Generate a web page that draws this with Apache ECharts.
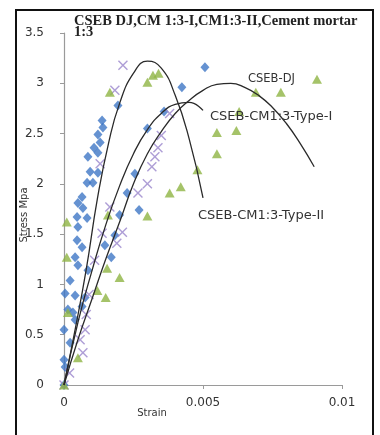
<!DOCTYPE html>
<html>
<head>
<meta charset="utf-8">
<script src="https://cdn.jsdelivr.net/npm/echarts@6.0.0/dist/echarts.min.js"></script>
<style>
  html, body { margin: 0; padding: 0; background: #fff; }
  #chart { width: 380px; height: 435px; }
</style>
</head>
<body>
<div id="chart"></div>
<script>
// [strain, stress]
var mortarPoints = [
  [0, 0], [0.00004, 0.18], [0, 0.25], [0.00022, 0.42], [0, 0.55], [0.0004, 0.65],
  [0.00032, 0.72], [0.00014, 0.75], [0.00065, 0.78], [0.00076, 0.87], [0.0004, 0.89],
  [0.00004, 0.91], [0.00022, 1.04], [0.00086, 1.14], [0.0005, 1.19], [0.0004, 1.27],
  [0.00065, 1.37], [0.00047, 1.44], [0.0005, 1.57], [0.00047, 1.67], [0.00083, 1.66],
  [0.00068, 1.76], [0.0005, 1.81], [0.00065, 1.87], [0.00083, 2.01], [0.00104, 2.01],
  [0.00094, 2.12], [0.00122, 2.11], [0.00086, 2.27], [0.00122, 2.31], [0.00108, 2.36],
  [0.0013, 2.41], [0.00122, 2.49], [0.0014, 2.56], [0.00137, 2.63], [0.00194, 2.78],
  [0.00147, 1.39], [0.0017, 1.27], [0.00183, 1.49], [0.002, 1.69], [0.0027, 1.74],
  [0.00227, 1.91], [0.00255, 2.1], [0.003, 2.55], [0.0036, 2.72], [0.00424, 2.96],
  [0.00507, 3.16]
];
var typeTwoPoints = [
  [0, 0], [0.0002, 0.12], [0.00068, 0.32], [0.00058, 0.45], [0.00076, 0.55],
  [0.0008, 0.7], [0.0009, 0.9], [0.0011, 1.24], [0.00137, 1.51], [0.0019, 1.41],
  [0.0021, 1.52], [0.00165, 1.77], [0.0013, 2.2], [0.00266, 1.91], [0.003, 2.0],
  [0.00316, 2.17], [0.00327, 2.27], [0.00338, 2.36], [0.0035, 2.48], [0.0038, 2.7],
  [0.00183, 2.93], [0.00212, 3.18]
];
var djPoints = [
  [0, 0], [0.0005, 0.27], [0.00014, 0.72], [0.0012, 0.94], [0.0015, 0.87],
  [0.00155, 1.16], [0.002, 1.07], [0.0001, 1.27], [0.0001, 1.62], [0.00158, 1.69],
  [0.003, 1.68], [0.0038, 1.91], [0.0042, 1.97], [0.0048, 2.14], [0.0055, 2.3],
  [0.0055, 2.51], [0.0062, 2.53], [0.0063, 2.72], [0.00165, 2.91], [0.003, 3.01],
  [0.0032, 3.08], [0.0034, 3.1], [0.0069, 2.91], [0.0078, 2.91], [0.0091, 3.04]
];
// trendlines
var typeTwoCurve = [
  [0, 0], [0.0004, 0.55], [0.0008, 1.15], [0.0012, 1.85], [0.0016, 2.4], [0.002, 2.8],
  [0.0025, 3.1], [0.003, 3.22], [0.0035, 3.15], [0.004, 2.88], [0.0045, 2.45], [0.005, 1.86]
];
var typeOneCurve = [
  [0, 0], [0.0005, 0.62], [0.001, 1.13], [0.0015, 1.59], [0.002, 1.98], [0.0025, 2.3],
  [0.003, 2.54], [0.0035, 2.7], [0.004, 2.79], [0.0045, 2.81], [0.005, 2.73]
];
var djCurve = [
  [0, 0], [0.0005, 0.45], [0.001, 0.85], [0.0015, 1.25], [0.002, 1.62], [0.0025, 2.0],
  [0.003, 2.3], [0.0035, 2.52], [0.004, 2.7], [0.0045, 2.83], [0.005, 2.93], [0.0055, 2.99],
  [0.006, 3.0], [0.0065, 2.96], [0.007, 2.88], [0.0075, 2.76], [0.008, 2.6], [0.0085, 2.4],
  [0.009, 2.17]
];
var xTicks = [0, 0.005, 0.01];
var yTicks = [0, 0.5, 1, 1.5, 2, 2.5, 3, 3.5];

var crossPath = 'path://M0,1L1,0L5,4L9,0L10,1L6,5L10,9L9,10L5,6L1,10L0,9L4,5Z';
var curveStyle = { color: '#2a2a2a', width: 1.3 };
var sans = 'DejaVu Sans';

var chart = echarts.init(document.getElementById('chart'));
chart.setOption({
  animation: false,
  backgroundColor: '#fff',
  title: {
    text: 'CSEB DJ,CM 1:3-I,CM1:3-II,Cement mortar\n1:3',
    left: 74,
    top: 16,
    padding: 0,
    textStyle: {
      fontFamily: 'Liberation Serif',
      fontSize: 14.5,
      fontWeight: 'bold',
      lineHeight: 11,
      color: '#222'
    }
  },
  grid: {
    left: 64, top: 33, right: 38, bottom: 50,
    containLabel: false,
    outerBoundsMode: 'none'
  },
  xAxis: {
    type: 'value',
    min: xTicks[0],
    max: xTicks[xTicks.length - 1],
    interval: xTicks[1] - xTicks[0],
    splitLine: { show: false },
    axisLine: { show: true, lineStyle: { color: '#9a9a9a', width: 1.2 } },
    axisTick: { show: true, length: 4, lineStyle: { color: '#9a9a9a' } },
    axisLabel: {
      margin: 12,
      fontFamily: sans,
      fontSize: 12,
      color: '#333',
      formatter: function (v) { return String(v); }
    }
  },
  yAxis: {
    type: 'value',
    min: yTicks[0],
    max: yTicks[yTicks.length - 1],
    interval: yTicks[1] - yTicks[0],
    splitLine: { show: false },
    axisLine: { show: true, lineStyle: { color: '#9a9a9a', width: 1.2 } },
    axisTick: { show: true, length: 4, lineStyle: { color: '#9a9a9a' } },
    axisLabel: {
      margin: 20,
      fontFamily: sans,
      fontSize: 12,
      color: '#333'
    }
  },
  series: [
    {
      name: 'Cement mortar 1:3',
      type: 'scatter',
      data: mortarPoints,
      symbol: 'diamond',
      symbolSize: [9, 10],
      itemStyle: { color: '#3f77c5' }
    },
    {
      name: 'CSEB-CM1:3-Type-II',
      type: 'scatter',
      data: typeTwoPoints,
      symbol: crossPath,
      symbolSize: 10,
      itemStyle: { color: '#9a86cc' }
    },
    {
      name: 'CSEB-DJ',
      type: 'scatter',
      data: djPoints,
      symbol: 'triangle',
      symbolSize: [10, 9],
      itemStyle: { color: '#8fb444' }
    },
    {
      name: 'Type-II trend', type: 'line', data: typeTwoCurve, smooth: true,
      showSymbol: false, lineStyle: curveStyle, z: 5
    },
    {
      name: 'Type-I trend', type: 'line', data: typeOneCurve, smooth: true,
      showSymbol: false, lineStyle: curveStyle, z: 5
    },
    {
      name: 'DJ trend', type: 'line', data: djCurve, smooth: true,
      showSymbol: false, lineStyle: curveStyle, z: 5
    }
  ],
  graphic: [
    {
      type: 'rect',
      shape: { x: 16, y: 10, width: 357, height: 440 },
      style: { fill: 'none', stroke: '#111', lineWidth: 2 },
      silent: true
    },
    {
      type: 'text', x: 248, y: 79,
      style: { text: 'CSEB-DJ', font: '11.5px "DejaVu Sans"', fill: '#333', verticalAlign: 'middle' },
      z: 10
    },
    {
      type: 'text', x: 210, y: 117,
      style: { text: 'CSEB-CM1:3-Type-I', font: '13px "DejaVu Sans"', fill: '#333', verticalAlign: 'middle' },
      z: 10
    },
    {
      type: 'text', x: 198, y: 216,
      style: { text: 'CSEB-CM1:3-Type-II', font: '13px "DejaVu Sans"', fill: '#333', verticalAlign: 'middle' },
      z: 10
    },
    {
      type: 'text', x: 152, y: 413,
      style: { text: 'Strain', font: '10px "DejaVu Sans"', fill: '#333', align: 'center', verticalAlign: 'middle' },
      z: 10
    },
    {
      type: 'text', x: 24, y: 215, rotation: Math.PI / 2,
      style: { text: 'Stress Mpa', font: '10px "DejaVu Sans"', fill: '#333', align: 'center', verticalAlign: 'middle' },
      z: 10
    }
  ]
});
</script>
</body>
</html>
